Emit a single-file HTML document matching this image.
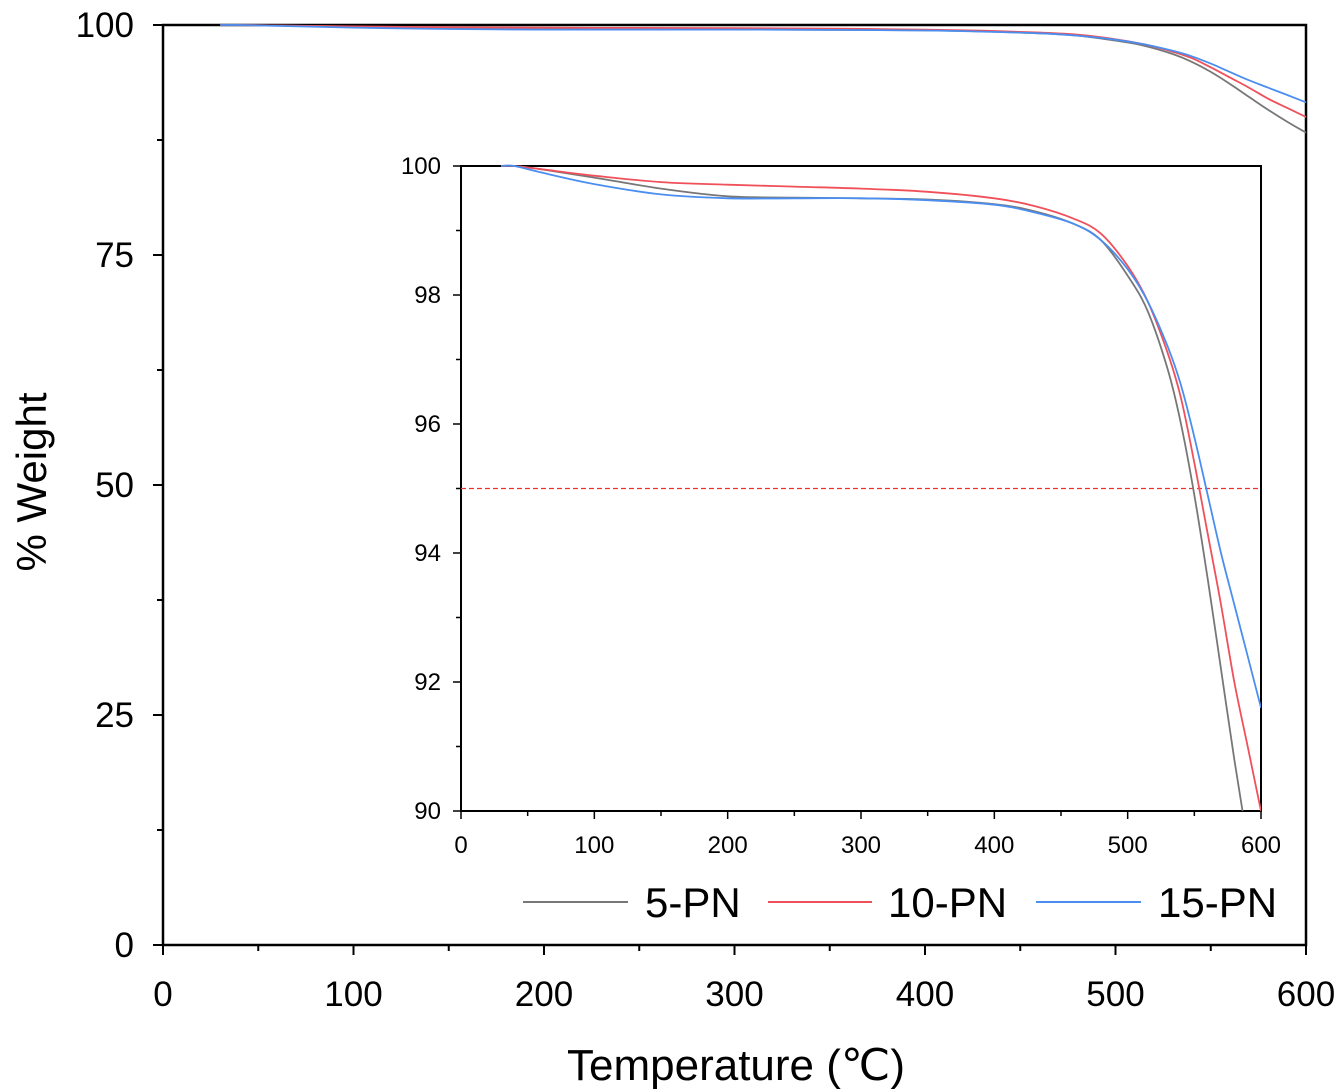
<!DOCTYPE html>
<html><head><meta charset="utf-8"><style>
body{margin:0;background:#fff}
svg{display:block;font-family:"Liberation Sans",Arial,sans-serif}
</style></head><body>
<svg id="chart" width="1339" height="1091" viewBox="0 0 1339 1091" xmlns="http://www.w3.org/2000/svg"></svg>
<script>
const temps = [30, 40, 60, 100, 150, 200, 250, 300, 350, 400, 430, 460, 480, 500, 515, 530, 540, 550, 560, 570, 580, 590, 600];
const pn5 = [100, 100, 99.95, 99.82, 99.65, 99.53, 99.51, 99.5, 99.48, 99.41, 99.3, 99.1, 98.85, 98.3, 97.75, 96.85, 96.0, 94.9, 93.6, 92.2, 90.8, 89.5, 88.3];
const pn10 = [100, 100, 99.95, 99.85, 99.75, 99.71, 99.68, 99.65, 99.6, 99.5, 99.38, 99.18, 98.95, 98.45, 97.9, 97.1, 96.4, 95.4, 94.3, 93.2, 92.0, 91.0, 90.0];
const pn15 = [100, 100, 99.9, 99.72, 99.56, 99.5, 99.5, 99.5, 99.47, 99.4, 99.28, 99.1, 98.85, 98.4, 97.9, 97.2, 96.6, 95.8, 94.9, 94.0, 93.2, 92.4, 91.6];
const mainXTicks = [0,100,200,300,400,500,600];
const mainYTicks = [0,25,50,75,100];
const insetXTicks = [0,100,200,300,400,500,600];
const insetYTicks = [90,92,94,96,98,100];
const seriesNames = ["5-PN","10-PN","15-PN"];
const colors = ["#777777","#f0505a","#4a8ef0"];
const NS="http://www.w3.org/2000/svg";
const svg=document.getElementById('chart');
function mk(tag,attrs,parent){const e=document.createElementNS(NS,tag);for(const k in attrs)e.setAttribute(k,attrs[k]);(parent||svg).appendChild(e);return e;}
const mx=v=>163+v*(1306-163)/600, my=v=>945-v*(945-25)/100;
const ix=v=>461+v*(1261-461)/600, iy=v=>811-(v-90)*(811-166)/10;
const series=[pn5,pn10,pn15];
function smooth(pts){let d='M'+pts[0][0].toFixed(1)+','+pts[0][1].toFixed(1);
for(let i=0;i<pts.length-1;i++){const p0=pts[i-1]||pts[i],p1=pts[i],p2=pts[i+1],p3=pts[i+2]||p2;
const c1=[p1[0]+(p2[0]-p0[0])/6,p1[1]+(p2[1]-p0[1])/6],c2=[p2[0]-(p3[0]-p1[0])/6,p2[1]-(p3[1]-p1[1])/6];
d+='C'+c1[0].toFixed(1)+','+c1[1].toFixed(1)+' '+c2[0].toFixed(1)+','+c2[1].toFixed(1)+' '+p2[0].toFixed(1)+','+p2[1].toFixed(1);}
return d;}
const mb=mk('rect',{x:163,y:25,width:1143,height:920,fill:'none',stroke:'#000','stroke-width':2.5});


for(let v=0;v<=600;v+=50){const major=v%100===0;const t=mk('line',{x1:mx(v),x2:mx(v),y1:945,y2:945+(major?10:6),stroke:'#000','stroke-width':2});

}
mainXTicks.forEach(v=>{const t=mk('text',{x:mx(v),y:1006,'font-size':35,'text-anchor':'middle'});t.textContent=v;

});
for(let v=0;v<=100;v+=12.5){const major=v%25===0;const t=mk('line',{x1:163-(major?10:6),x2:163,y1:my(v),y2:my(v),stroke:'#000','stroke-width':2});

}
mainYTicks.forEach(v=>{const t=mk('text',{x:134,y:my(v)+12,'font-size':35,'text-anchor':'end'});t.textContent=v;

});
const xt=mk('text',{x:736,y:1080,'font-size':44,'text-anchor':'middle'});xt.textContent='Temperature (℃)';


const yt=mk('text',{x:0,y:0,'font-size':42,'text-anchor':'middle',transform:'translate(46,482) rotate(-90)'});yt.textContent='% Weight';


series.forEach((s,i)=>{const d=smooth(temps.map((t,j)=>[mx(t),my(s[j])]));
const p=mk('path',{d,fill:'none',stroke:colors[i],'stroke-width':1.8});

});
const cp=mk('clipPath',{id:'ic'});mk('rect',{x:461,y:160,width:800,height:651},cp);
const ib=mk('rect',{x:461,y:166,width:800,height:645,fill:'#fff',stroke:'#000','stroke-width':2});


for(let v=0;v<=600;v+=50){const major=v%100===0;const t=mk('line',{x1:ix(v),x2:ix(v),y1:811,y2:811+(major?8:5),stroke:'#000','stroke-width':1.5});

}
insetXTicks.forEach(v=>{const t=mk('text',{x:ix(v),y:853,'font-size':24,'text-anchor':'middle'});t.textContent=v;

});
for(let v=90;v<=100;v+=1){const major=v%2===0;const t=mk('line',{x1:461-(major?8:5),x2:461,y1:iy(v),y2:iy(v),stroke:'#000','stroke-width':1.5});

}
insetYTicks.forEach(v=>{const t=mk('text',{x:441,y:iy(v)+8,'font-size':24,'text-anchor':'end'});t.textContent=v;

});
const dl=mk('line',{x1:461,x2:1261,y1:iy(95),y2:iy(95),stroke:'#f03030','stroke-width':1.3,'stroke-dasharray':'5,3'});


series.forEach((s,i)=>{const d=smooth(temps.map((t,j)=>[ix(t),iy(s[j])]));
const p=mk('path',{d,fill:'none',stroke:colors[i],'stroke-width':1.8,'clip-path':'url(#ic)'});

});
const lx=[[523,628,645],[768,872,888],[1036,1141,1158]];
seriesNames.forEach((n,i)=>{const l=mk('line',{x1:lx[i][0],x2:lx[i][1],y1:902,y2:902,stroke:colors[i],'stroke-width':2});


const t=mk('text',{x:lx[i][2],y:917,'font-size':42});t.textContent=n;

});
</script>
</body></html>
